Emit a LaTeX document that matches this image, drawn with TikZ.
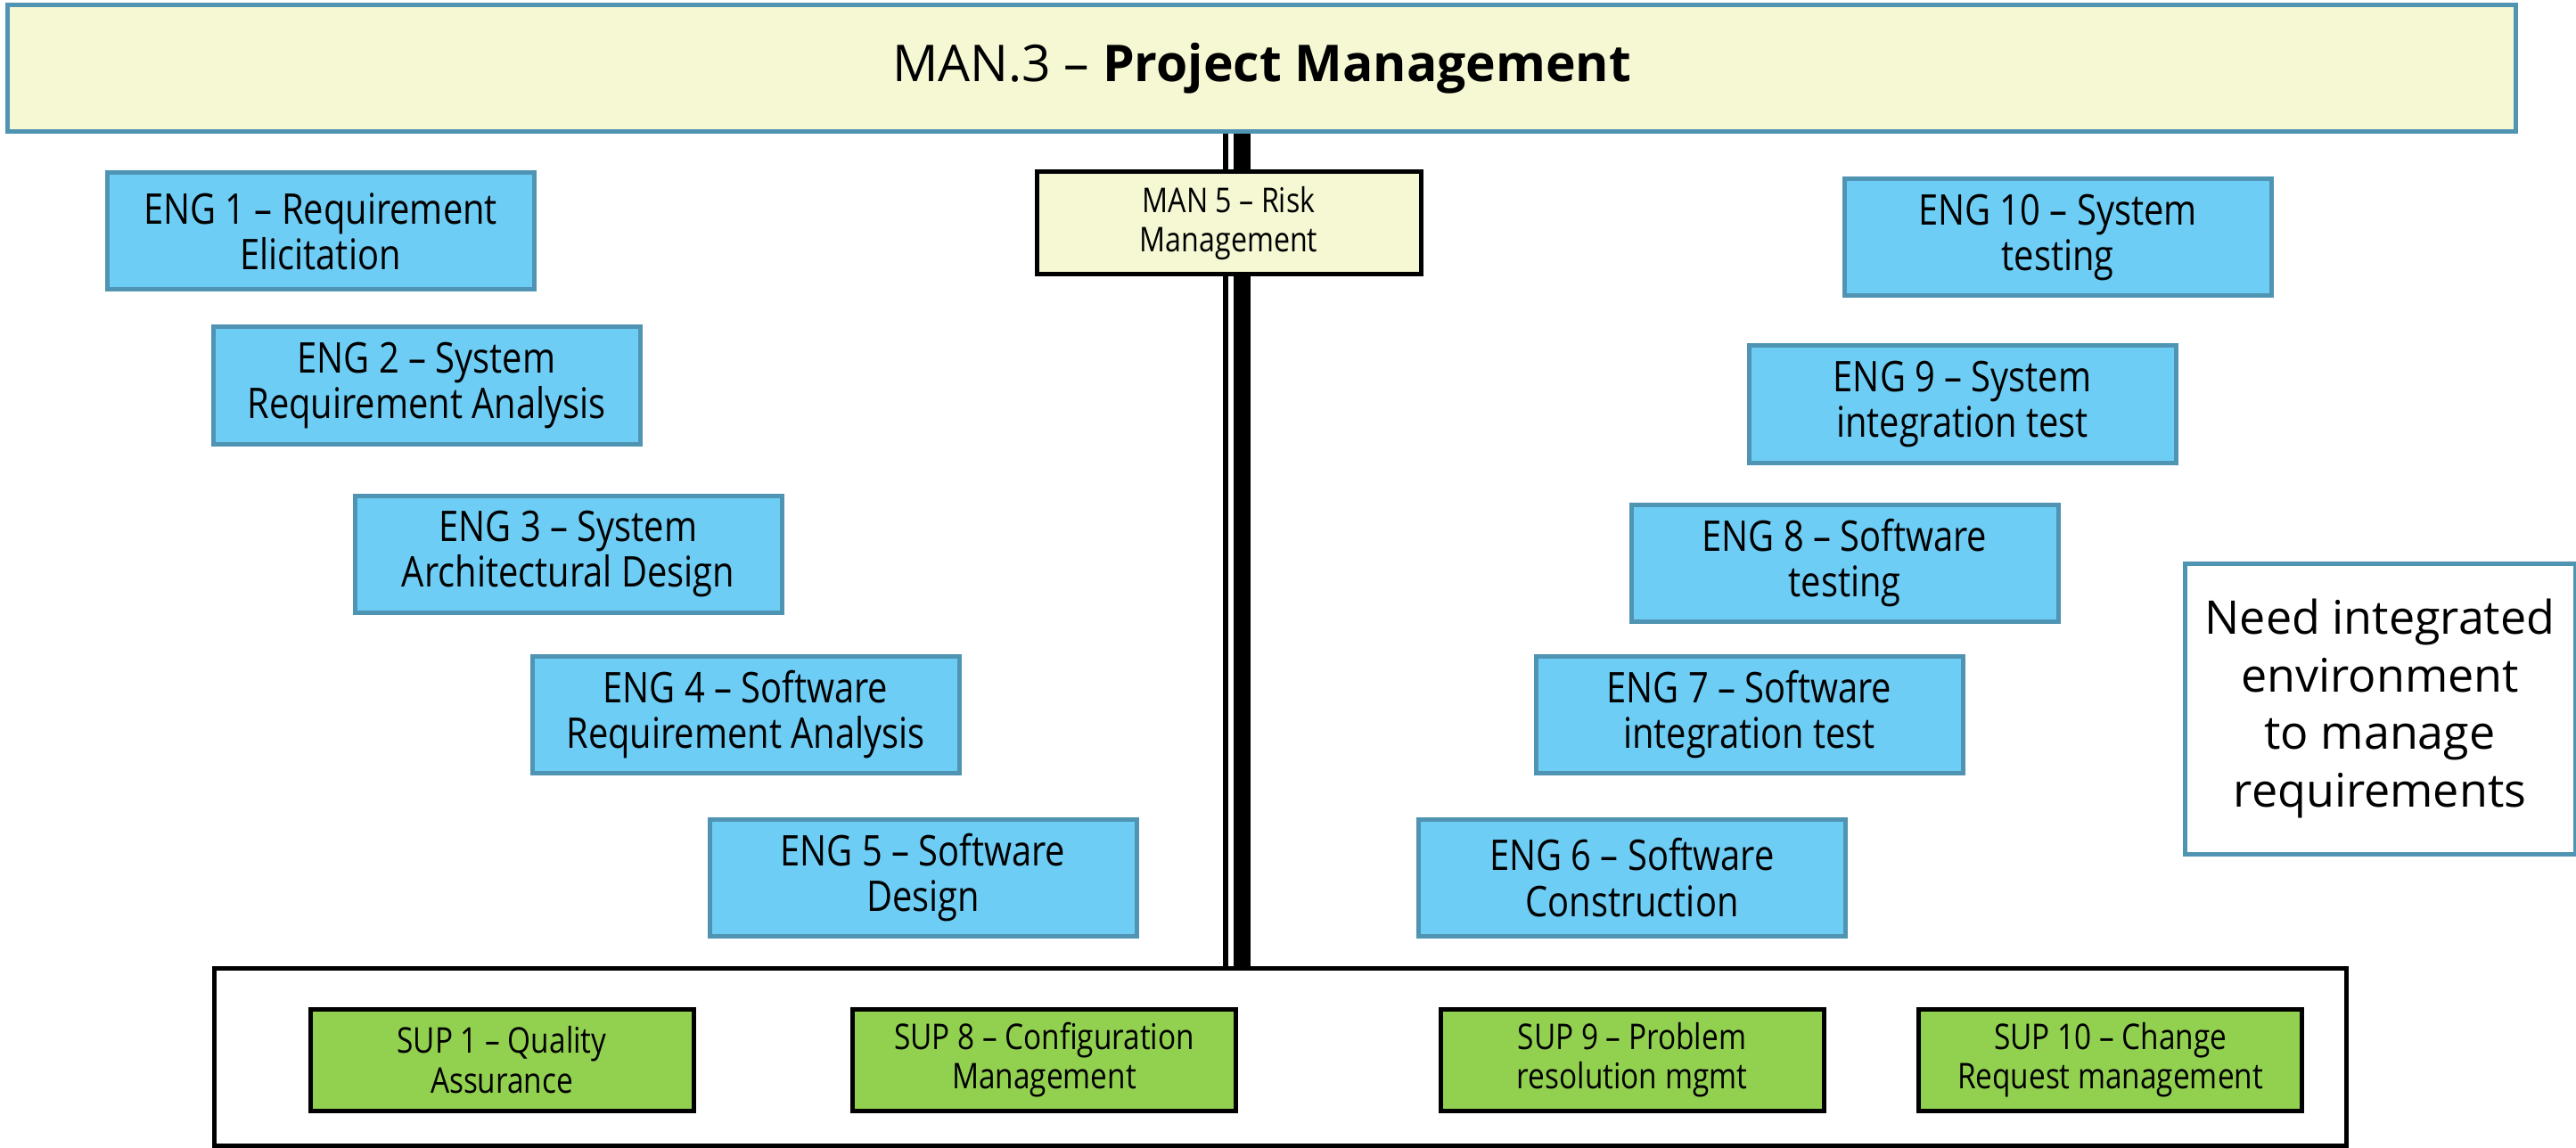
\documentclass[tikz,border=0pt]{standalone}
\usepackage{fontspec}
\setmainfont{Open Sans}
\newfontfamily\boxfont[FakeStretch=0.84]{Open Sans}
\usetikzlibrary{backgrounds}

\definecolor{barYellow}{HTML}{F5F8D3}
\definecolor{edgeBlue}{HTML}{5094B3}
\definecolor{engBlue}{HTML}{6DCDF4}
\definecolor{supGreen}{HTML}{92D050}

\begin{document}
\begin{tikzpicture}[
        inner sep = 0pt,
        align = center,
        engbox/.style = {draw=edgeBlue, fill=engBlue, line width=0.05cm,
            minimum width=4.79cm, minimum height=1.31cm,
            font=\boxfont\fontsize{13.5}{14.6}\selectfont},
        supbox/.style = {draw=black, fill=supGreen, line width=0.05cm,
            minimum width=4.30cm, minimum height=1.14cm,
            font=\boxfont\fontsize{11.3}{12.6}\selectfont},
        spine/.style = {draw=black, line cap=butt}]

        \useasboundingbox (0,0) rectangle (28.9,-12.88);

        % NODES
        % management
        \node[draw=edgeBlue, fill=barYellow, line width=0.05cm, minimum width=28.13cm,
            minimum height=1.42cm, font=\fontsize{16.2}{20}\selectfont]
            (man3) at (14.155,-0.77) {MAN.3 – \textbf{Project Management}};
        \node[draw=black, line width=0.05cm, minimum width=23.92cm, minimum height=1.99cm]
            (support) at (14.36,-11.855) {};

        % left branch
        \node[engbox] (eng1) at (3.595,-2.595) {ENG 1 – Requirement\\Elicitation};
        \node[engbox] (eng2) at (4.785,-4.325) {ENG 2 – System\\Requirement Analysis};
        \node[engbox] (eng3) at (6.375,-6.215) {ENG 3 – System\\Architectural Design};
        \node[engbox] (eng4) at (8.365,-8.015) {ENG 4 – Software\\Requirement Analysis};
        \node[engbox] (eng5) at (10.355,-9.845) {ENG 5 – Software\\Design};

        % right branch
        \node[engbox] (eng6) at (18.31,-9.845) {ENG 6 – Software\\Construction};
        \node[engbox] (eng7) at (19.625,-8.015) {ENG 7 – Software\\integration test};
        \node[engbox] (eng8) at (20.695,-6.315) {ENG 8 – Software\\testing};
        \node[engbox] (eng9) at (22.015,-4.535) {ENG 9 – System\\integration test};
        \node[engbox] (eng10) at (23.085,-2.665) {ENG 10 – System\\testing};

        % risk and note
        \node[draw=black, fill=barYellow, line width=0.05cm, minimum width=4.31cm,
            minimum height=1.15cm, font=\boxfont\fontsize{10.9}{12.6}\selectfont]
            (man5) at (13.785,-2.505) {MAN 5 – Risk\\Management};
        \node[draw=edgeBlue, line width=0.05cm, minimum width=4.38cm, minimum height=3.26cm,
            font=\fontsize{14.8}{18.4}\selectfont]
            (note) at (26.70,-7.95) {Need integrated\\environment\\to manage\\requirements};

        % support processes
        \node[supbox] (sup1) at (5.63,-11.89) {SUP 1 – Quality\\Assurance};
        \node[supbox] (sup8) at (11.715,-11.89) {SUP 8 – Configuration\\Management};
        \node[supbox] (sup9) at (18.31,-11.89) {SUP 9 – Problem\\resolution mgmt};
        \node[supbox] (sup10) at (23.675,-11.89) {SUP 10 – Change\\Request management};

        % SPINE
        \begin{pgfonlayer}{background}
            \draw[spine, line width=0.06cm] ([xshift=-0.405cm]man3.south) -- ([xshift=-0.405cm]man3.south |- support.north);
            \draw[spine, line width=0.19cm] ([xshift=-0.22cm]man3.south) -- ([xshift=-0.22cm]man3.south |- support.north);
        \end{pgfonlayer}
\end{tikzpicture}
\end{document}
